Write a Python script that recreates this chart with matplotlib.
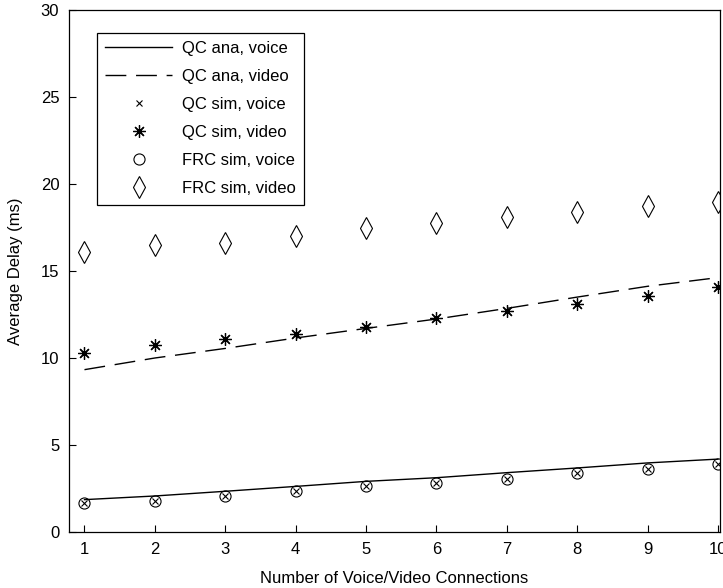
import matplotlib
matplotlib.use("Agg")
import matplotlib.pyplot as plt

# Number of simultaneous voice/video connections
connections = [1, 2, 3, 4, 5, 6, 7, 8, 9, 10]

# Analytical average delay (ms) for the QC scheme
qc_ana_voice = [1.86, 2.07, 2.34, 2.62, 2.91, 3.12, 3.41, 3.68, 3.97, 4.19]
qc_ana_video = [9.33, 10.0, 10.55, 11.15, 11.7, 12.24, 12.85, 13.5, 14.12, 14.62]

# Simulated average delay (ms)
qc_sim_voice = [1.65, 1.80, 2.07, 2.33, 2.62, 2.81, 3.06, 3.41, 3.60, 3.88]
qc_sim_video = [10.29, 10.73, 11.09, 11.39, 11.81, 12.28, 12.72, 13.08, 13.58, 14.10]
frc_sim_voice = [1.65, 1.80, 2.07, 2.33, 2.62, 2.81, 3.06, 3.41, 3.60, 3.88]
frc_sim_video = [16.1, 16.5, 16.6, 17.0, 17.5, 17.78, 18.12, 18.41, 18.74, 18.98]

x_ticks = [1, 2, 3, 4, 5, 6, 7, 8, 9, 10]
y_ticks = [0, 5, 10, 15, 20, 25, 30]

plt.rcParams['font.family'] = ['Liberation Sans', 'DejaVu Sans']
plt.rcParams['font.size'] = 12

fig = plt.figure(figsize=(7.23, 5.88), dpi=100)
ax = fig.add_axes([69 / 723, 56 / 588, 651 / 723, 522 / 588])

ax.plot(connections, qc_ana_voice, color='black', linewidth=1.0, label='QC ana, voice')
ax.plot(connections, qc_ana_video, color='black', linewidth=1.0,
        linestyle=(0, (15, 7)), label='QC ana, video')
ax.plot(connections, qc_sim_voice, linestyle='none', marker='x', markersize=5,
        markeredgewidth=0.8, color='black', label='QC sim, voice')
ax.plot(connections, qc_sim_video, linestyle='none', marker=(8, 2, 0), markersize=9,
        markeredgewidth=0.9, color='black', label='QC sim, video')
ax.plot(connections, frc_sim_voice, linestyle='none', marker='o', markersize=8,
        markerfacecolor='none', markeredgewidth=0.8, color='black', label='FRC sim, voice')
ax.plot(connections, frc_sim_video, linestyle='none', marker='d', markersize=11,
        markerfacecolor='none', markeredgewidth=0.8, color='black', label='FRC sim, video')

ax.set_xlim(0.78, 10.03)
ax.set_ylim(0, 30)
ax.set_xticks(x_ticks)
ax.set_yticks(y_ticks)
ax.tick_params(direction='in', length=5, width=0.8, colors='black', labelsize=12)
ax.tick_params(axis='x', pad=7)
ax.tick_params(axis='y', pad=7)
for s in ax.spines.values():
    s.set_linewidth(0.9)

ax.set_xlabel('Number of Voice/Video Connections', fontsize=12, labelpad=10)
ax.set_ylabel('Average Delay (ms)', fontsize=12, labelpad=13)

leg = ax.legend(loc='upper left', bbox_to_anchor=(0.043, 0.956), borderaxespad=0,
                fontsize=12, handlelength=4.0, handletextpad=0.6, labelspacing=0.78,
                borderpad=0.5, fancybox=False, edgecolor='black', framealpha=1)
leg.get_frame().set_linewidth(0.9)

fig.savefig('out.png', dpi=100)
